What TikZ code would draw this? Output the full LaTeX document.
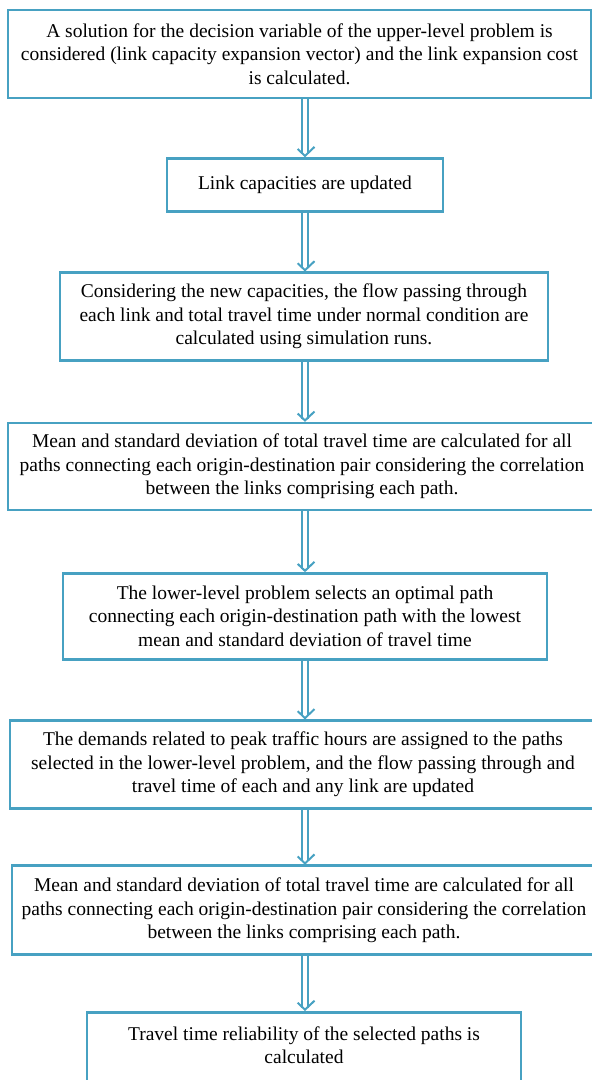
\documentclass[tikz,border=0pt]{standalone}
\usepackage{fontspec}
\setmainfont{Liberation Serif}
\usepackage{xcolor}
\usepackage{tikz}
\usetikzlibrary{arrows.meta, positioning, decorations.markings}
\definecolor{fteal}{HTML}{47A1C2}
\tikzset{
  procbox/.style={rectangle, draw=fteal, line width=2.8pt, fill=white, text=black,
                  align=center, inner sep=0pt, font=\fontsize{19.5}{23.5}\selectfont},
  dflow/.style={draw=fteal, line width=1.8pt, double=white, double distance=3.8pt,
                shorten >=3pt, postaction={decorate},
                decoration={markings, mark=at position 1 with {
                  \draw[fteal, line width=2pt, line join=miter] (-10pt,9.5pt) -- (-1pt,0) -- (-10pt,-9.5pt);
                }}}
}
\begin{document}
\begin{tikzpicture}
  \useasboundingbox (0,0) rectangle (592pt,-1080pt);
  \clip (0,0) rectangle (592pt,-1080pt);

  \node[procbox, minimum width=583pt, minimum height=88pt] (sol) at (299.5pt,-54pt)
    {A solution for the decision variable of the upper-level problem is\\considered (link capacity expansion vector) and the link expansion cost\\is calculated.};
  \node[procbox, minimum width=276pt, minimum height=53pt, below=57.5pt of sol, xshift=5.5pt] (upd)
    {Link capacities are updated};
  \node[procbox, minimum width=488pt, minimum height=88pt, below=58.5pt of upd, xshift=-1pt] (sim)
    {Considering the new capacities, the flow passing through\\each link and total travel time under normal condition are\\calculated using simulation runs.};
  \node[procbox, minimum width=588pt, minimum height=87pt, below=59.5pt of sim, xshift=-2pt] (stat1)
    {Mean and standard deviation of total travel time are calculated for all\\paths connecting each origin-destination pair considering the correlation\\between the links comprising each path.};
  \node[procbox, minimum width=484pt, minimum height=86pt, below=60.5pt of stat1, xshift=3pt] (lower)
    {The lower-level problem selects an optimal path\\connecting each origin-destination path with the lowest\\mean and standard deviation of travel time};
  \node[procbox, minimum width=586pt, minimum height=88pt, below=58.5pt of lower, xshift=-2pt] (assign)
    {The demands related to peak traffic hours are assigned to the paths\\selected in the lower-level problem, and the flow passing through and\\travel time of each and any link are updated};
  \node[procbox, minimum width=584pt, minimum height=89pt, below=54.5pt of assign, xshift=1pt] (stat2)
    {Mean and standard deviation of total travel time are calculated for all\\paths connecting each origin-destination pair considering the correlation\\between the links comprising each path.};
  \node[procbox, minimum width=434pt, minimum height=90pt, below=54.5pt of stat2] (rel)
    {Travel time reliability of the selected paths is\\calculated\\ \mbox{}};

  \draw[dflow] (upd.north |- sol.south) -- (upd.north);
  \draw[dflow] (upd.south) -- (upd.south |- sim.north);
  \draw[dflow] (upd.south |- sim.south) -- (upd.south |- stat1.north);
  \draw[dflow] (upd.south |- stat1.south) -- (upd.south |- lower.north);
  \draw[dflow] (upd.south |- lower.south) -- (upd.south |- assign.north);
  \draw[dflow] (upd.south |- assign.south) -- (upd.south |- stat2.north);
  \draw[dflow] (upd.south |- stat2.south) -- (upd.south |- rel.north);
\end{tikzpicture}
\end{document}
